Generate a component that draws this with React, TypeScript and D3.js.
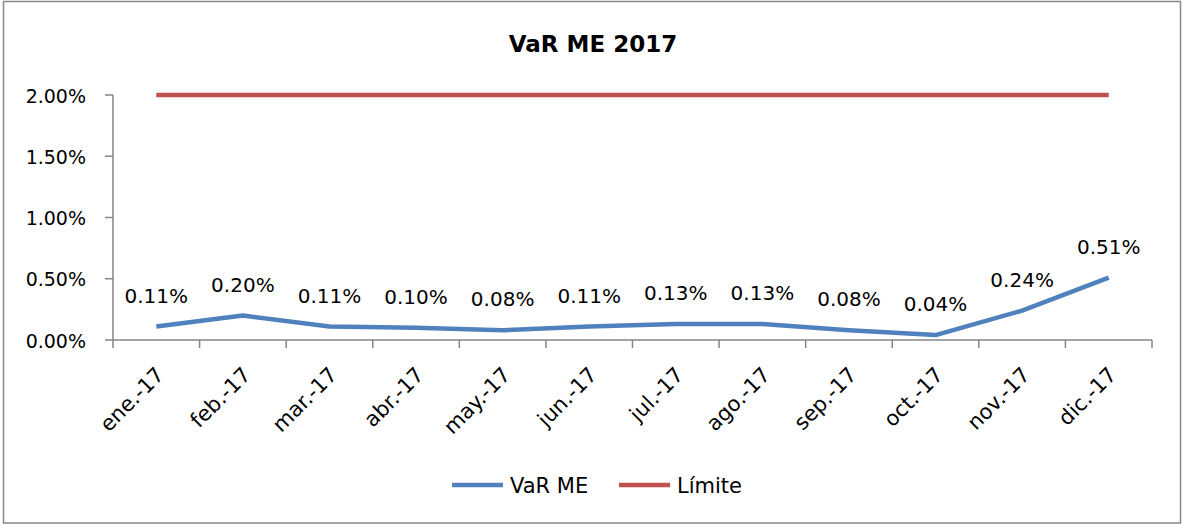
import * as d3 from "d3";

const months = [
  "ene.-17", "feb.-17", "mar.-17", "abr.-17", "may.-17", "jun.-17",
  "jul.-17", "ago.-17", "sep.-17", "oct.-17", "nov.-17", "dic.-17",
];
const varMe = [0.11, 0.2, 0.11, 0.1, 0.08, 0.11, 0.13, 0.13, 0.08, 0.04, 0.24, 0.51];
const limite = [2, 2, 2, 2, 2, 2, 2, 2, 2, 2, 2, 2];
const yTicks = [0, 0.5, 1, 1.5, 2];

const font = "'DejaVu Sans', sans-serif";
const blue = "#4F81BD";
const red = "#C0504D";
const axisGray = "#868686";

export default function App() {
  const width = 1182;
  const height = 525;
  const left = 113;
  const right = 1152;
  const top = 95;
  const bottom = 340;

  const x = d3.scaleBand<string>().domain(months).range([left, right]);
  const y = d3.scaleLinear().domain([0, 2]).range([bottom, top]);
  const cx = (m: string) => (x(m) ?? 0) + x.bandwidth() / 2;

  const line = d3
    .line<number>()
    .x((_, i) => cx(months[i]))
    .y((d) => y(d));

  const tickXs = [...months.map((m) => x(m) ?? 0), right];
  const pct = (v: number) => d3.format(".2f")(v) + "%";

  return (
    <>
      <style>{"body{margin:0}"}</style>
      <svg width={width} height={height} style={{ display: "block", fontFamily: font }}>
        <rect x={0} y={0} width={width} height={height} fill="#fff" />
        <rect x={3.5} y={1.5} width={1177} height={521.5} fill="none" stroke="#888" strokeWidth={1.5} />

        <text x={593} y={52} textAnchor="middle" fontSize={23} fontWeight="bold" fill="#000">
          VaR ME 2017
        </text>

        {/* y axis */}
        <line x1={left} x2={left} y1={top} y2={bottom} stroke={axisGray} strokeWidth={1.5} />
        {yTicks.map((t) => (
          <g key={t}>
            <line x1={left - 8} x2={left} y1={y(t)} y2={y(t)} stroke={axisGray} strokeWidth={1.5} />
            <text x={left - 27} y={y(t) + 7.5} textAnchor="end" fontSize={19} fill="#000">
              {pct(t)}
            </text>
          </g>
        ))}

        {/* x axis */}
        <line x1={left} x2={right} y1={bottom} y2={bottom} stroke={axisGray} strokeWidth={1.5} />
        {tickXs.map((tx, i) => (
          <line key={i} x1={tx} x2={tx} y1={bottom} y2={bottom + 8} stroke={axisGray} strokeWidth={1.5} />
        ))}
        {months.map((m) => (
          <text
            key={m}
            transform={`translate(${cx(m) + 9},${bottom + 36}) rotate(-45)`}
            textAnchor="end"
            fontSize={21}
            fill="#000"
          >
            {m}
          </text>
        ))}

        <path d={line(limite) ?? ""} fill="none" stroke={red} strokeWidth={4.5} />
        <path d={line(varMe) ?? ""} fill="none" stroke={blue} strokeWidth={4.5} strokeLinejoin="round" />

        {varMe.map((v, i) => (
          <text key={i} x={cx(months[i])} y={y(v) - 24} textAnchor="middle" fontSize={20} fill="#000">
            {pct(v)}
          </text>
        ))}

        {/* legend */}
        <line x1={452} x2={503} y1={485} y2={485} stroke={blue} strokeWidth={4.5} />
        <text x={510} y={493} fontSize={21} fill="#000">VaR ME</text>
        <line x1={619} x2={670} y1={485} y2={485} stroke={red} strokeWidth={4.5} />
        <text x={677} y={493} fontSize={21} fill="#000">Límite</text>
      </svg>
    </>
  );
}
